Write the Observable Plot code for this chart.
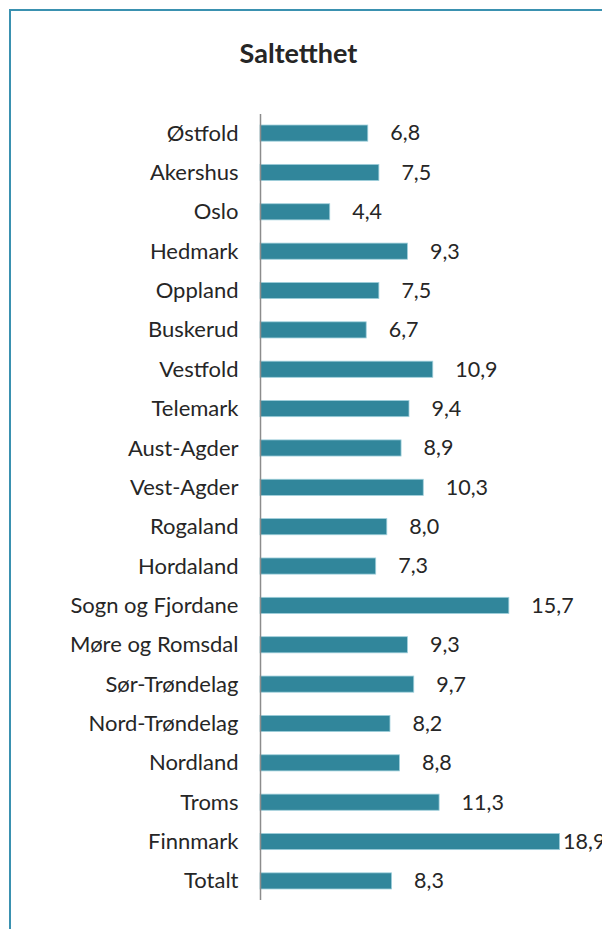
<!DOCTYPE html>
<html>
<head>
<meta charset="utf-8">
<script src="https://cdn.jsdelivr.net/npm/d3@7"></script>
<script src="https://cdn.jsdelivr.net/npm/@observablehq/plot@0.6"></script>
<style>
  html, body { margin: 0; padding: 0; background: #fff; }
  #wrap { position: relative; width: 602px; height: 929px; overflow: hidden; background: #fff; }
  #frame { position: absolute; left: 9px; top: 9px; width: 700px; height: 1000px;
           border-left: 2px solid #3a91b0; border-top: 2px solid #3a91b0; }
  #title { position: absolute; left: 0; top: 36px; width: 597px; text-align: center;
           font-family: Lato, sans-serif; font-weight: bold; font-size: 27px; color: #262626; }
  #chart { position: absolute; left: 0; top: 0; }
</style>
</head>
<body>
<div id="wrap">
  <div id="frame"></div>
  <div id="title">Saltetthet</div>
  <div id="chart"></div>
</div>
<script>
const categories = ["Østfold","Akershus","Oslo","Hedmark","Oppland","Buskerud","Vestfold","Telemark","Aust-Agder","Vest-Agder","Rogaland","Hordaland","Sogn og Fjordane","Møre og Romsdal","Sør-Trøndelag","Nord-Trøndelag","Nordland","Troms","Finnmark","Totalt"];
const values = [6.8,7.5,4.4,9.3,7.5,6.7,10.9,9.4,8.9,10.3,8.0,7.3,15.7,9.3,9.7,8.2,8.8,11.3,18.9,8.3];

const data = categories.map((c, i) => ({category: c, value: values[i]}));
const fmt = v => v.toFixed(1).replace(".", ",");
const xMax = 20;

const chart = Plot.plot({
  width: 602,
  height: 929,
  marginLeft: 260,
  marginRight: 25,
  marginTop: 114,
  marginBottom: 29,
  style: {fontFamily: "Lato, sans-serif", fontSize: "22px", color: "#262626", background: "transparent", overflow: "visible"},
  x: {domain: [0, xMax], axis: null},
  y: {domain: categories, paddingInner: 0.59, paddingOuter: 0.28, round: false, label: null, tickSize: 0, tickPadding: 22},
  marks: [
    Plot.barX(data, {x: "value", y: "category", fill: "#31869b", stroke: "#9fcfdb", strokeWidth: 0.8}),
    Plot.ruleX([0], {stroke: "#8c8c8c", strokeWidth: 1.5}),
    Plot.text(data.filter(d => d.value <= xMax * 0.9), {x: "value", y: "category", text: d => fmt(d.value), dx: 22, textAnchor: "start", fill: "#262626", fontSize: 21.5}),
    Plot.text(data.filter(d => d.value > xMax * 0.9), {x: "value", y: "category", text: d => fmt(d.value), dx: 3, textAnchor: "start", fill: "#262626", fontSize: 21.5})
  ]
});
document.getElementById("chart").appendChild(chart);
</script>
</body>
</html>
